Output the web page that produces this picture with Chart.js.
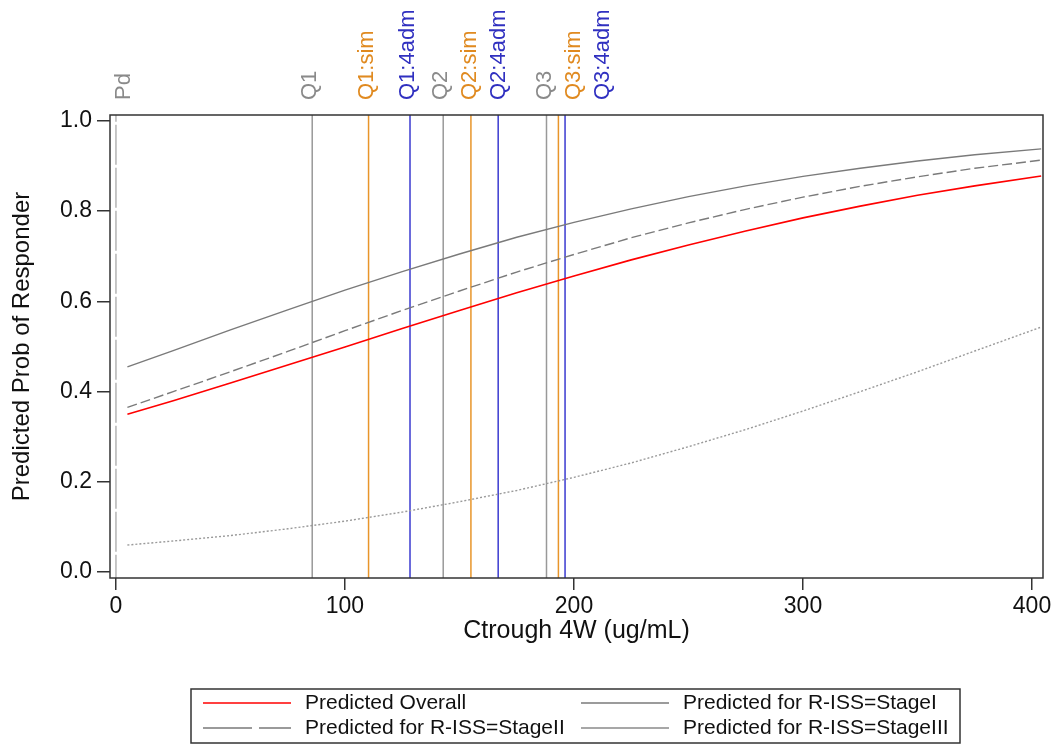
<!DOCTYPE html>
<html>
<head>
<meta charset="utf-8">
<title>Predicted Prob of Responder</title>
<script src="https://cdn.jsdelivr.net/npm/chart.js@4.4.1/dist/chart.umd.min.js"></script>
<style>
  body { margin: 0; background: #fff; }
  canvas { display: block; }
</style>
</head>
<body>
<canvas id="line-chart" width="1062" height="744"></canvas>
<script>
// values
var xVals = [5, 25, 50, 75, 100, 125, 150, 175, 200, 225, 250, 275, 300, 325, 350, 375, 404];
var overall = [0.350, 0.380, 0.419, 0.459, 0.499, 0.540, 0.580, 0.619, 0.656, 0.692, 0.725, 0.756, 0.785, 0.811, 0.835, 0.856, 0.878];
var stage1 = [0.455, 0.491, 0.537, 0.581, 0.625, 0.666, 0.705, 0.742, 0.775, 0.805, 0.832, 0.856, 0.877, 0.895, 0.911, 0.925, 0.938];
var stage2 = [0.365, 0.400, 0.444, 0.489, 0.535, 0.580, 0.623, 0.665, 0.704, 0.741, 0.774, 0.804, 0.831, 0.855, 0.876, 0.895, 0.913];
var stage3 = [0.060, 0.069, 0.081, 0.096, 0.113, 0.133, 0.156, 0.181, 0.210, 0.242, 0.278, 0.316, 0.357, 0.400, 0.444, 0.490, 0.543];

var refNames = ["Pd", "Q1", "Q1:sim", "Q1:4adm", "Q2", "Q2:sim", "Q2:4adm", "Q3", "Q3:sim", "Q3:4adm"];
var refVals = [0, 85.7, 110.3, 128.4, 142.9, 155.0, 166.9, 188.0, 193.2, 196.1];
var refKind = ["pd", "q", "sim", "adm", "q", "sim", "adm", "q", "sim", "adm"];

var xTicks = [0, 100, 200, 300, 400];
var yTicks = [0, 0.2, 0.4, 0.6, 0.8, 1.0];

var FONT = "'Liberation Sans', Arial, sans-serif";
var lineCol = { pd: "#b4b4b4", q: "#999999", sim: "#e8952a", adm: "#3a3ad0" };
var textCol = { pd: "#8a8a8a", q: "#8a8a8a", sim: "#e08a20", adm: "#3030c0" };

function pts(ys) {
    var out = [];
    for (var i = 0; i < xVals.length; i++) out.push({ x: xVals[i], y: ys[i] });
    return out;
}

var datasets = [];
// reference lines first so the curves sit on top
for (var i = 0; i < refVals.length; i++) {
    datasets.push({
        label: refNames[i],
        isRef: true,
        data: [{ x: refVals[i], y: -0.05 }, { x: refVals[i], y: 1.05 }],
        borderColor: lineCol[refKind[i]],
        borderWidth: 1.5,
        borderDash: refKind[i] == "pd" ? [40, 3] : [],
        pointRadius: 0,
        order: 10
    });
}
datasets.push(
    { label: "Predicted Overall", data: pts(overall), borderColor: "#ff0000", borderWidth: 1.6, pointRadius: 0, order: 1 },
    { label: "Predicted for R-ISS=StageI", data: pts(stage1), borderColor: "#7a7a7a", borderWidth: 1.4, pointRadius: 0, order: 2 },
    { label: "Predicted for R-ISS=StageII", data: pts(stage2), borderColor: "#7a7a7a", borderWidth: 1.4, borderDash: [10, 4], pointRadius: 0, order: 3 },
    { label: "Predicted for R-ISS=StageIII", data: pts(stage3), borderColor: "#9a9a9a", borderWidth: 1.4, borderDash: [2, 2], pointRadius: 0, order: 4 }
);

// frame, rotated labels above the plot and the boxed legend
var extras = {
    id: "extras",
    afterDraw: function (chart) {
        var ctx = chart.ctx;
        var a = chart.chartArea;
        var xs = chart.scales.x;

        ctx.save();
        ctx.strokeStyle = "#333";
        ctx.lineWidth = 1.5;
        ctx.strokeRect(a.left, a.top, a.right - a.left, a.bottom - a.top);

        // labels pushed right when they would collide
        ctx.font = "22px " + FONT;
        ctx.textAlign = "left";
        ctx.textBaseline = "middle";
        var prev = a.left + 14 - 29;
        for (var i = 0; i < refVals.length; i++) {
            var px = xs.getPixelForValue(refVals[i]) - 2;
            if (px < prev + 29) px = prev + 29;
            prev = px;
            ctx.save();
            ctx.translate(px, 100);
            ctx.rotate(-Math.PI / 2);
            ctx.fillStyle = textCol[refKind[i]];
            ctx.fillText(refNames[i], 0, 0);
            ctx.restore();
        }

        // legend
        ctx.strokeStyle = "#333";
        ctx.lineWidth = 1.5;
        ctx.strokeRect(191, 689, 769, 54);
        var curves = chart.data.datasets.filter(function (d) { return !d.isRef; });
        var cols = [203, 581];
        var rows = [703, 728];
        var order = [[0, 0], [1, 0], [0, 1], [1, 1]]; // [col,row]
        ctx.font = "21px " + FONT;
        ctx.fillStyle = "#111";
        for (var k = 0; k < curves.length; k++) {
            var c = cols[order[k][0]], r = rows[order[k][1]];
            ctx.beginPath();
            ctx.strokeStyle = k == 3 ? "#8a8a8a" : curves[k].borderColor;
            ctx.lineWidth = 1.6;
            ctx.setLineDash(k == 2 ? [49, 7] : []);
            ctx.moveTo(c, r);
            ctx.lineTo(c + 88, r);
            ctx.stroke();
            ctx.setLineDash([]);
            ctx.fillText(curves[k].label, c + 102, r);
        }
        ctx.restore();
    }
};

new Chart(document.getElementById("line-chart"), {
    type: "line",
    data: { datasets: datasets },
    options: {
        responsive: false,
        animation: false,
        devicePixelRatio: 1,
        layout: { padding: { top: 115, right: 19, left: 0, bottom: 98 } },
        plugins: {
            legend: { display: false },
            tooltip: { enabled: false }
        },
        scales: {
            x: {
                type: "linear",
                min: -2.6,
                max: 404.8,
                afterFit: function (s) { s.height = 68; },
                afterBuildTicks: function (s) { s.ticks = xTicks.map(function (v) { return { value: v }; }); },
                border: { display: false },
                grid: { drawOnChartArea: false, drawTicks: true, tickLength: 12, color: "#333", lineWidth: 1.5 },
                ticks: { padding: 3, color: "#111", font: { family: FONT, size: 23 }, maxRotation: 0 },
                title: { display: true, text: "Ctrough 4W (ug/mL)", color: "#111", font: { family: FONT, size: 25 }, padding: { top: 0, bottom: 0 } }
            },
            y: {
                type: "linear",
                min: -0.013,
                max: 1.013,
                afterFit: function (s) { s.width = 110; },
                afterBuildTicks: function (s) { s.ticks = yTicks.map(function (v) { return { value: v }; }); },
                border: { display: false },
                grid: { drawOnChartArea: false, drawTicks: true, tickLength: 13, color: "#333", lineWidth: 1.5 },
                ticks: {
                    padding: 5, color: "#111", font: { family: FONT, size: 23 },
                    callback: function (v) { return v.toFixed(1); }
                },
                title: { display: true, text: "Predicted Prob of Responder", color: "#111", font: { family: FONT, size: 24 }, padding: { top: 8, bottom: 0 } }
            }
        }
    },
    plugins: [extras]
});
</script>
</body>
</html>
